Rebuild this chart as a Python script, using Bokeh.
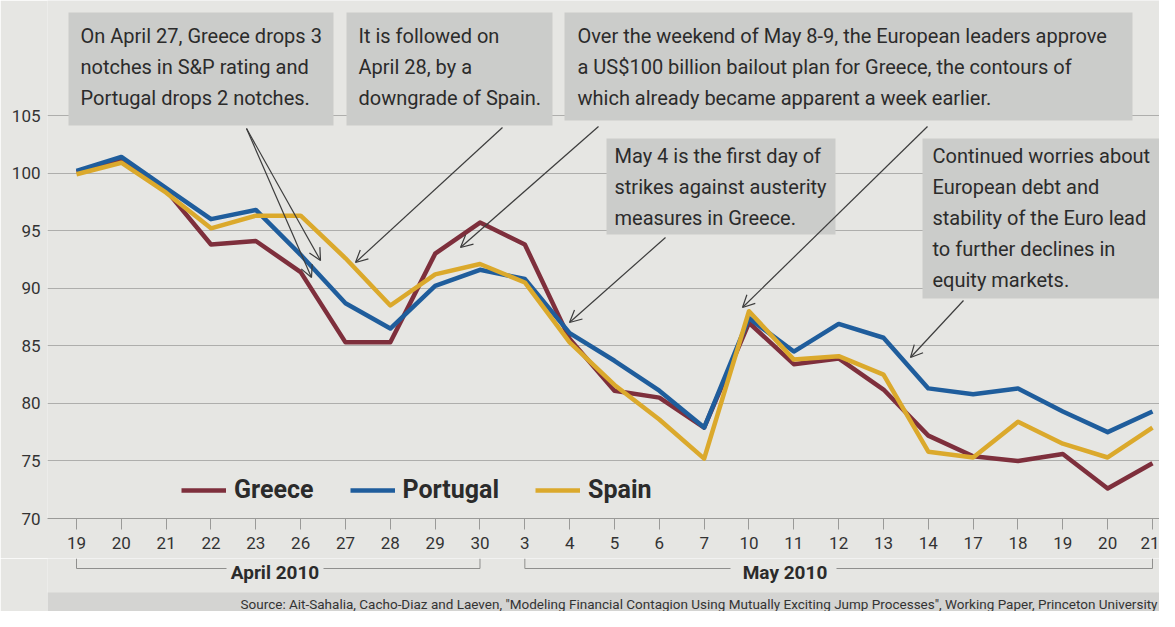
from bokeh.plotting import figure
from bokeh.models import Range1d, FixedTicker, BoxAnnotation, Arrow, OpenHead, Legend, LegendItem
from bokeh.layouts import column
from bokeh.embed import file_html
from bokeh.resources import INLINE
from bokeh.core.properties import value

# ---------------- data ----------------
days = ["19", "20", "21", "22", "23", "26", "27", "28", "29", "30",
        "3", "4", "5", "6", "7", "10", "11", "12", "13", "14", "17", "18", "19", "20", "21"]
greece = [100.1, 101.1, 98.5, 93.8, 94.1, 91.4, 85.3, 85.3, 93.0, 95.7,
          93.8, 85.6, 81.1, 80.5, 77.9, 87.0, 83.4, 83.9, 81.2, 77.2,
          75.4, 75.0, 75.6, 72.6, 74.8]
portugal = [100.2, 101.4, 98.7, 96.0, 96.8, 92.9, 88.7, 86.5, 90.2, 91.6,
            90.8, 86.1, 83.7, 81.1, 77.9, 87.4, 84.5, 86.9, 85.7, 81.3,
            80.8, 81.3, 79.3, 77.5, 79.3]
spain = [99.9, 100.9, 98.3, 95.2, 96.3, 96.3, 92.6, 88.5, 91.2, 92.1,
         90.5, 85.3, 81.6, 78.6, 75.2, 88.0, 83.8, 84.1, 82.5, 75.8,
         75.3, 78.4, 76.5, 75.3, 77.9]
series_names = ["Greece", "Portugal", "Spain"]
y_ticks = [70, 75, 80, 85, 90, 95, 100, 105]
months = ["April 2010", "May 2010"]
month_spans = [(0, 9), (10, 24)]
source = ('Source: Ait-Sahalia, Cacho-Diaz and Laeven, "Modeling Financial Contagion Using '
          'Mutually Exciting Jump Processes", Working Paper, Princeton University')
notes = [
    ["On April 27, Greece drops 3", "notches in S&P rating and", "Portugal drops 2 notches."],
    ["It is followed on", "April 28, by a", "downgrade of Spain."],
    ["Over the weekend of May 8-9, the European leaders approve",
     "a US$100 billion bailout plan for Greece, the contours of",
     "which already became apparent a week earlier."],
    ["May 4 is the first day of", "strikes against austerity", "measures in Greece."],
    ["Continued worries about", "European debt and", "stability of the Euro lead",
     "to further declines in", "equity markets."],
]

# ---------------- style ----------------
FONT = "Roboto"
PAPER = "#e6e6e3"
BOXC = "#cbccca"
TXT = "#2b2b2b"
COLORS = ["#7e2f3c", "#1f5d9c", "#dba92c"]

# pixel helpers (reference-image pixels -> data coordinates)
def X(px):
    return (px - 76.0) / 44.833

def Y(py):
    return 70 + (518.0 - py) / 11.514

p = figure(width=1159, height=558, output_backend="svg", toolbar_location=None,
           x_range=Range1d(X(47), X(1159)), y_range=Range1d(70, Y(0)),
           min_border_left=47, min_border_right=0, min_border_top=0, min_border_bottom=40,
           background_fill_color=PAPER, border_fill_color=PAPER, outline_line_color=None)

p.xgrid.visible = False
p.ygrid.ticker = FixedTicker(ticks=y_ticks)
p.ygrid.grid_line_color = "#aeaeac"
p.ygrid.grid_line_width = 1

p.yaxis.ticker = FixedTicker(ticks=y_ticks)
p.yaxis.axis_line_color = None
p.yaxis.major_tick_line_color = None
p.yaxis.minor_tick_line_color = None
p.yaxis.major_label_standoff = 1
p.yaxis.major_label_text_font = FONT
p.yaxis.major_label_text_font_size = "17px"
p.yaxis.major_label_text_color = "#333333"

xs = list(range(len(days)))
p.xaxis.ticker = FixedTicker(ticks=xs)
p.xaxis.major_label_overrides = {i: d for i, d in enumerate(days)}
p.xaxis.axis_line_color = "#9a9a98"
p.xaxis.major_tick_line_color = "#9a9a98"
p.xaxis.major_tick_in = 0
p.xaxis.major_tick_out = 11
p.xaxis.minor_tick_line_color = None
p.xaxis.major_label_standoff = 7
p.xaxis.major_label_text_font = FONT
p.xaxis.major_label_text_font_size = "17px"
p.xaxis.major_label_text_color = "#333333"

# annotation boxes
boxes = [(68, 333, 12, 125), (346, 552, 12, 125), (564, 1132, 12, 120),
         (606, 835, 138, 234), (922, 1168, 138, 298)]
for (l, r, t, b) in boxes:
    p.add_layout(BoxAnnotation(left=X(l), right=X(r), top=Y(t), bottom=Y(b),
                               fill_color=BOXC, fill_alpha=1, line_color=None, level="underlay"))

# data lines
renderers = []
for vals, col in zip([greece, portugal, spain], COLORS):
    renderers.append(p.line(xs, vals, line_width=4.5, color=col, line_join="round"))

# annotation texts
starts = [(80, 35), (358, 35), (577, 35), (614, 155), (932, 155)]
tx, ty, tt = [], [], []
for (sx, sy), lines in zip(starts, notes):
    for k, line in enumerate(lines):
        tx.append(X(sx))
        ty.append(Y(sy + 31 * k))
        tt.append(line)
p.text(x=tx, y=ty, text=tt, text_font=value(FONT), text_font_size="20px",
       text_color=TXT, text_align="left", text_baseline="middle")

# arrows
arrows = [((246, 128), (320, 260)), ((246, 128), (311, 277)), ((502, 127), (355, 262)),
          ((598, 126), (460, 247)), ((665, 237), (569, 322)), ((927, 126), (742, 307)),
          ((963, 300), (910, 357))]
for (a, b) in arrows:
    p.add_layout(Arrow(end=OpenHead(size=12, line_color="#3c3c3c", line_width=1.2),
                       x_start=X(a[0]), y_start=Y(a[1]), x_end=X(b[0]), y_end=Y(b[1]),
                       line_color="#3c3c3c", line_width=1.2))

legend = Legend(items=[LegendItem(label=n, renderers=[r]) for n, r in zip(series_names, renderers)],
                orientation="horizontal", location=(134, 14),
                background_fill_alpha=0, border_line_color=None,
                label_text_font=FONT, label_text_font_style="bold",
                label_text_font_size="25px", label_text_color=TXT,
                glyph_width=45, glyph_height=20, label_standoff=8, spacing=36,
                padding=0, margin=0)
p.add_layout(legend)

# ---------------- lower strip: month brackets and source ----------------
H2 = 53
p2 = figure(width=1159, height=H2, output_backend="svg", toolbar_location=None,
            x_range=p.x_range, y_range=Range1d(H2, 0),
            x_axis_location=None, y_axis_location=None,
            min_border_left=47, min_border_right=0, min_border_top=0, min_border_bottom=0,
            background_fill_color=PAPER, border_fill_color=PAPER, outline_line_color=None)
p2.grid.visible = False

def L(py):
    return py - 558

p2.add_layout(BoxAnnotation(top=L(592), bottom=H2, fill_color="#d4d4d2", fill_alpha=1,
                            line_color=None, level="underlay"))

gaps = [(226, 323), (730, 836)]
bx0, by0, bx1, by1 = [], [], [], []
for (a, b), (g0, g1) in zip(month_spans, gaps):
    bx0 += [a, a, X(g1), b]
    by0 += [L(558), L(568), L(568), L(568)]
    bx1 += [a, X(g0), b, b]
    by1 += [L(568), L(568), L(568), L(558)]
p2.segment(x0=bx0, y0=by0, x1=bx1, y1=by1, line_color="#8f8f8d", line_width=1)

p2.text(x=[X(274.5), X(784.5)], y=[L(572), L(572)], text=months,
        text_font=value(FONT), text_font_style="bold", text_font_size="19px",
        text_color=TXT, text_align="center", text_baseline="middle")

p2.text(x=[X(1157)], y=[L(603)], text=[source], text_font=value(FONT),
        text_font_size="13.5px", text_color="#333333", text_align="right",
        text_baseline="middle")

layout = column(p, p2, spacing=0)
open("out.html", "w").write(file_html(layout, INLINE))
